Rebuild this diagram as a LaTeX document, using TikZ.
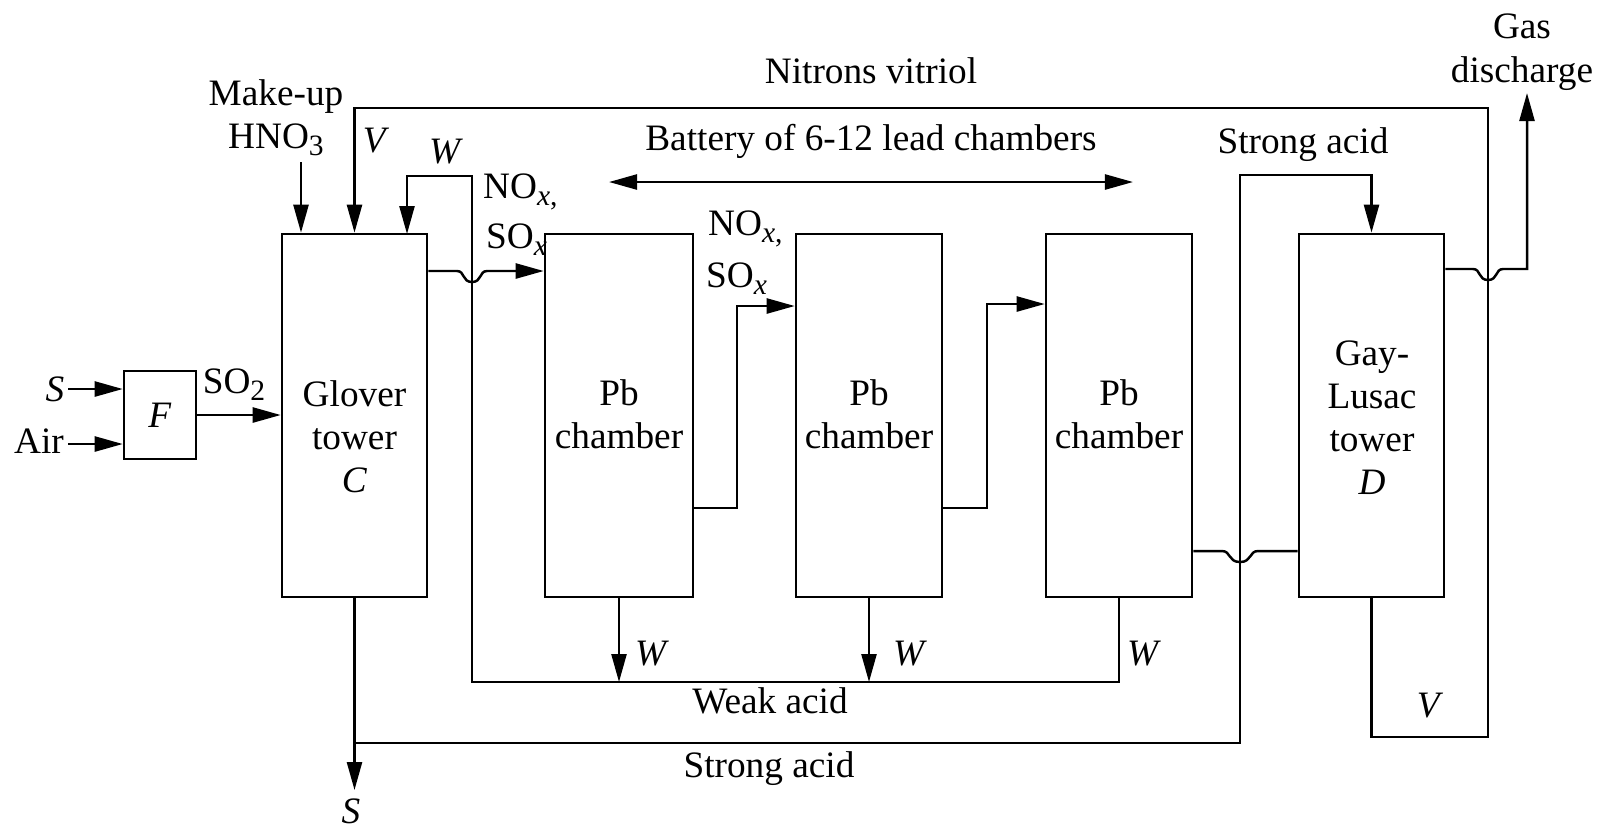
\documentclass[tikz,border=0pt]{standalone}
\usepackage{fontspec}
\setmainfont{Liberation Serif}
\usetikzlibrary{arrows.meta}
\newcommand\lowsub[1]{\raisebox{-0.42ex}{\fontsize{8.4}{10}\selectfont #1}}
\begin{document}
\begin{tikzpicture}[x=0.01cm,y=-0.01cm,line width=0.7pt,
  every node/.style={font=\fontsize{10.6}{12.2}\selectfont, inner sep=0pt},
  box/.style={draw, line width=0.7pt, minimum height=3.63cm},
  arr/.style={-{Triangle[length=2.8mm,width=1.5mm]}},
  darr/.style={{Triangle[length=2.8mm,width=1.5mm]}-{Triangle[length=2.8mm,width=1.5mm]}}]
\useasboundingbox (0,0) rectangle (1600,826);

% helper heights
\coordinate (y271) at (0,271);
\coordinate (y508) at (0,508);
\coordinate (y551) at (0,551);
\coordinate (y269) at (0,269);

% boxes
\node[draw, minimum width=0.72cm, minimum height=0.88cm] (F) at (160,415) {\textit{F}};
\node[box, minimum width=1.45cm] (C) at (354.5,415.5) {};
\node[box, minimum width=1.48cm] (P1) at (619,415.5) {};
\node[box, minimum width=1.46cm] (P2) at (869,415.5) {};
\node[box, minimum width=1.46cm] (P3) at (1119,415.5) {};
\node[box, minimum width=1.45cm] (GL) at (1371.5,415.5) {};

% box texts
\node[align=center] (Ct) at (354.5,437) {Glover\\tower\\\textit{C}};
\node[align=center] (P1t) at (619,414) {Pb\\chamber};
\node[align=center] (P2t) at (869,414) {Pb\\chamber};
\node[align=center] (P3t) at (1119,414) {Pb\\chamber};
\node[align=center] (GLt) at (1372,418) {Gay-\\Lusac\\tower\\\textit{D}};

% inputs to F
\node (Sin) at (55,389) {\textit{S}};
\node (Air) at (39,441) {Air};
\coordinate (sA) at (68,389);
\coordinate (aA) at (68,444);
\draw[arr] (sA) -- (sA -| F.west);
\draw[arr] (aA) -- (aA -| F.west);
\node[anchor=base] (so2) at (234,393) {SO\lowsub{2}};
\draw[arr] (F.east) -- (F.east -| C.west);

% make-up HNO3
\node[anchor=base] (mk1) at (276,105) {Make-up};
\node[anchor=base] (mk2) at (276,148) {HNO\lowsub{3}};
\coordinate (mkA) at (301,162);
\draw[arr] (mkA) -- (mkA |- C.north);

% nitrous vitriol loop
\coordinate (vR) at (1488,737);
\coordinate (vT) at (1488,108);
\draw[arr] (GL.south) |- (vR) -- (vT) -| (C.north);
\node[anchor=base] (nv) at (871,83) {Nitrons vitriol};
\node[anchor=base] (V1) at (376,152) {\textit{V}};
\node[anchor=base] (V2) at (1430,717) {\textit{V}};

% weak acid loop
\coordinate (wB) at (472,682);
\coordinate (wT) at (472,176);
\coordinate (wIn) at (407,234);
\draw[arr] (P3.south) |- (wB) -- (wT) -| (wIn);
\draw[arr] (P1.south) -- (P1.south |- wB);
\draw[arr] (P2.south) -- (P2.south |- wB);
\node[anchor=base] (W0) at (446,163) {\textit{W}};
\node[anchor=base] (W1) at (652,665) {\textit{W}};
\node[anchor=base] (W2) at (910,665) {\textit{W}};
\node[anchor=base] (W3) at (1144,665) {\textit{W}};
\node[anchor=base] (wa) at (770,713) {Weak acid};

% strong acid
\coordinate (sJ) at (354.5,743);
\coordinate (sOut) at (354.5,790);
\coordinate (sR) at (1240,743);
\coordinate (sT) at (1240,175);
\draw[arr] (C.south) -- (sOut);
\draw[arr] (sJ) -- (sR) -- (sT) -| (GL.north);
\node[anchor=base] (sa1) at (769,777) {Strong acid};
\node[anchor=base] (sa2) at (1303,153) {Strong acid};
\node[anchor=base] (Sout) at (351,823) {\textit{S}};

% gas path through chambers
\draw[arr] (C.east |- y271) -- (457,271) .. controls (465,271) and (462,282) .. (472,282) .. controls (482,282) and (479,271) .. (487,271) -- (P1.west |- y271);
\node[anchor=base west] (nox1) at (482,198) {NO\lowsub{\textit{x},}};
\node[anchor=base west] (sox1) at (485,248) {SO\lowsub{\textit{x}}};

\coordinate (b12) at (737,306);
\draw[arr] (P1.east |- y508) -| (b12) -- (b12 -| P2.west);
\node[anchor=base west] (nox2) at (707,235) {NO\lowsub{\textit{x},}};
\node[anchor=base west] (sox2) at (705,287) {SO\lowsub{\textit{x}}};

\coordinate (b23) at (987,304);
\draw[arr] (P2.east |- y508) -| (b23) -- (b23 -| P3.west);

\draw (P3.east |- y551) -- (1222,551) .. controls (1231,551) and (1228,562) .. (1240,562) .. controls (1252,562) and (1249,551) .. (1258,551) -- (GL.west |- y551);

\coordinate (gasTip) at (1527,93);
\draw[arr] (GL.east |- y269) -- (1473,269) .. controls (1481,269) and (1478,280) .. (1488,280) .. controls (1498,280) and (1495,269) .. (1503,269) -| (gasTip);
\node[anchor=base] (gas1) at (1522,38) {Gas};
\node[anchor=base] (gas2) at (1522,82) {discharge};

% battery
\node[anchor=base] (bat) at (871,150) {Battery of 6-12 lead chambers};
\coordinate (batL) at (609,182);
\coordinate (batR) at (1133,182);
\draw[darr] (batL) -- (batR);
\end{tikzpicture}
\end{document}
